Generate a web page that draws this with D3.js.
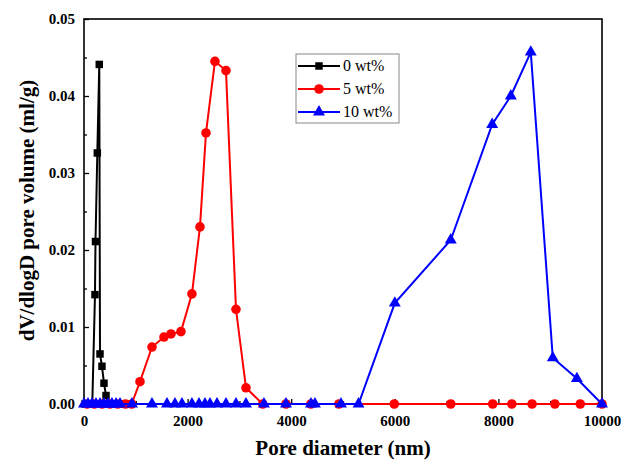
<!DOCTYPE html>
<html><head><meta charset="utf-8">
<script src="https://cdn.jsdelivr.net/npm/d3@7"></script>
<style>body{margin:0;background:#fff}svg{display:block}</style>
</head><body><svg id="c" width="624" height="462"></svg>
<script>
const series0X = [20, 60, 110, 160, 212, 222, 257, 295, 309, 347, 386, 425, 480, 540, 600, 680, 760, 850];
const series0Y = [0, 0, 0, 0, 0.0142, 0.0211, 0.0326, 0.0441, 0.0065, 0.0049, 0.0027, 0.0011, 0, 0, 0, 0, 0, 0];
const series5X = [60, 200, 350, 500, 650, 800, 920, 1081, 1313, 1544, 1679, 1872, 2084, 2239, 2355, 2528, 2741, 2934, 3127, 3450, 3900, 4380, 4920, 5990, 7080, 7890, 8260, 8650, 9090, 9580, 10000];
const series5Y = [0, 0, 0, 0, 0, 0, 0, 0.0029, 0.0074, 0.0087, 0.0091, 0.0094, 0.0143, 0.0230, 0.0352, 0.0445, 0.0433, 0.0123, 0.0021, 0, 0, 0, 0, 0, 0, 0, 0, 0, 0, 0, 0];
const series10X = [0, 77, 154, 232, 309, 386, 463, 540, 618, 695, 926, 1312, 1602, 1756, 1891, 2084, 2220, 2335, 2432, 2567, 2741, 2934, 3127, 3474, 3899, 4381, 4458, 4960, 5300, 6000, 7080, 7880, 8240, 8625, 9050, 9515, 10000];
const series10Y = [0, 0, 0, 0, 0, 0, 0, 0, 0, 0, 0, 0, 0, 0, 0, 0, 0, 0, 0, 0, 0, 0, 0, 0, 0, 0, 0, 0, 0, 0.0131, 0.0213, 0.0363, 0.0400, 0.0457, 0.0060, 0.0033, 0];
const seriesNames = ["0 wt%", "5 wt%", "10 wt%"];
const xTicks = [0, 2000, 4000, 6000, 8000, 10000];
const yTicks = [0.00, 0.01, 0.02, 0.03, 0.04, 0.05];
const xLabel = "Pore diameter (nm)";
const yLabel = "dV/dlogD pore volume (ml/g)";

const L = 84, R = 602, T = 19, B = 404;
const svg = d3.select("#c");
const x = d3.scaleLinear().domain([0, 10000]).range([L, R]);
const y = d3.scaleLinear().domain([0, 0.05]).range([B, T]);
const serif = "'Liberation Serif','Times New Roman',serif";

const xMinor = d3.range(1000, 10000, 2000);
const yMinor = d3.range(0.005, 0.05, 0.01);
const gx = svg.append("g").attr("transform", `translate(0,${B})`)
  .call(d3.axisBottom(x).tickValues(xTicks).tickFormat(d3.format("d")).tickSizeInner(-5).tickSizeOuter(0).tickPadding(11));
const gxm = svg.append("g").attr("transform", `translate(0,${B})`)
  .call(d3.axisBottom(x).tickValues(xMinor).tickFormat("").tickSizeInner(-3).tickSizeOuter(0));
const gy = svg.append("g").attr("transform", `translate(${L},0)`)
  .call(d3.axisLeft(y).tickValues(yTicks).tickFormat(d3.format(".2f")).tickSizeInner(-5).tickSizeOuter(0).tickPadding(9));
const gym = svg.append("g").attr("transform", `translate(${L},0)`)
  .call(d3.axisLeft(y).tickValues(yMinor).tickFormat("").tickSizeInner(-3).tickSizeOuter(0));
[gx, gxm, gy, gym].forEach(g => {
  g.select(".domain").remove();
  g.selectAll("line").attr("stroke", "#000").attr("stroke-width", 1.3);
  g.selectAll("text").attr("font-family", serif).attr("font-weight", "bold").attr("font-size", 15).attr("fill", "#000");
});

svg.append("rect").attr("x", L).attr("y", T).attr("width", R - L).attr("height", B - T)
  .attr("fill", "none").attr("stroke", "#000").attr("stroke-width", 1.6);

const line = d3.line().x(d => x(d[0])).y(d => y(d[1]));
const zip = (a, b) => a.map((v, i) => [v, b[i]]);
const data = [
  {pts: zip(series0X, series0Y), color: "#000000", sym: d3.symbolSquare, size: 56},
  {pts: zip(series5X, series5Y), color: "#ff0000", sym: d3.symbolCircle, size: 72},
  {pts: zip(series10X, series10Y), color: "#0000ff", sym: d3.symbolTriangle, size: 62}
];
data.forEach(s => {
  const g = svg.append("g");
  g.append("path").datum(s.pts).attr("d", line).attr("fill", "none").attr("stroke", s.color).attr("stroke-width", 2);
  g.selectAll("path.m").data(s.pts).join("path").attr("class", "m")
    .attr("transform", d => `translate(${x(d[0])},${y(d[1])})`)
    .attr("d", d3.symbol().type(s.sym).size(s.size)).attr("fill", s.color);
});

const lg = svg.append("g");
lg.append("rect").attr("x", 296).attr("y", 54).attr("width", 103).attr("height", 69)
  .attr("fill", "#fff").attr("stroke", "#888").attr("stroke-width", 1);
seriesNames.forEach((n, i) => {
  const yy = 66 + i * 23;
  lg.append("line").attr("x1", 298).attr("x2", 340).attr("y1", yy).attr("y2", yy)
    .attr("stroke", data[i].color).attr("stroke-width", 2);
  lg.append("path").attr("transform", `translate(319,${yy})`)
    .attr("d", d3.symbol().type(data[i].sym).size(data[i].size)()).attr("fill", data[i].color);
  lg.append("text").attr("x", 343).attr("y", yy + 5).text(n)
    .attr("font-family", serif).attr("font-size", 16).attr("fill", "#000");
});

svg.append("text").attr("x", (L + R) / 2).attr("y", 455).attr("text-anchor", "middle")
  .attr("font-family", serif).attr("font-weight", "bold").attr("font-size", 21).text(xLabel);
svg.append("text").attr("transform", `translate(34,${(T + B) / 2 - 1}) rotate(-90)`).attr("text-anchor", "middle")
  .attr("font-family", serif).attr("font-weight", "bold").attr("font-size", 21).text(yLabel);
</script></body></html>
